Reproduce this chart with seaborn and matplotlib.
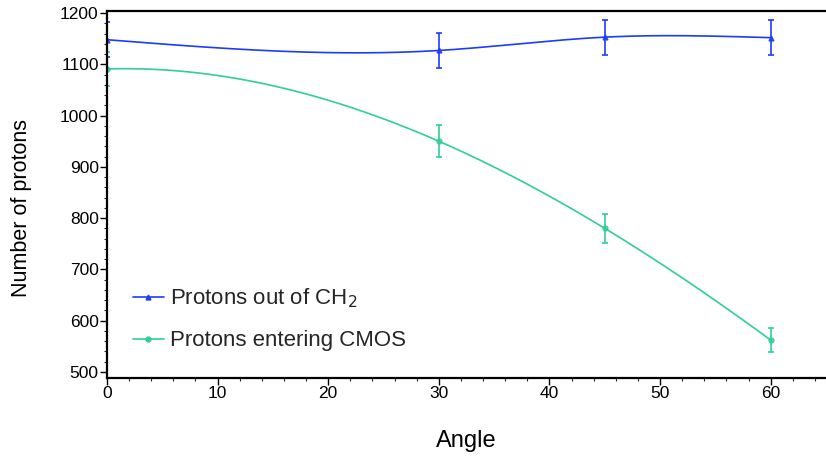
import numpy as np
import pandas as pd
import seaborn as sns
import matplotlib.pyplot as plt
from matplotlib.lines import Line2D
from matplotlib.ticker import MultipleLocator

# measured points
angles = [0, 30, 45, 60]
out_ch2 = [1148, 1127, 1153, 1152]
out_ch2_err = [34, 34, 34, 34]
entering_cmos = [1091, 950, 780, 562]
entering_cmos_err = [33, 31, 28, 24]

blue = '#1f3cf5'
green = '#30cf95'


def natural_spline(x, y, xs):
    # plain natural cubic spline through the points
    x = np.asarray(x, float)
    y = np.asarray(y, float)
    n = len(x)
    h = np.diff(x)
    A = np.zeros((n, n))
    r = np.zeros(n)
    A[0, 0] = A[-1, -1] = 1
    for i in range(1, n - 1):
        A[i, i - 1] = h[i - 1]
        A[i, i] = 2 * (h[i - 1] + h[i])
        A[i, i + 1] = h[i]
        r[i] = 6 * ((y[i + 1] - y[i]) / h[i] - (y[i] - y[i - 1]) / h[i - 1])
    M = np.linalg.solve(A, r)
    k = np.clip(np.searchsorted(x, xs) - 1, 0, n - 2)
    t0 = xs - x[k]
    t1 = x[k + 1] - xs
    hk = h[k]
    return (M[k] * t1**3 + M[k + 1] * t0**3) / (6 * hk) \
        + (y[k] / hk - M[k] * hk / 6) * t1 + (y[k + 1] / hk - M[k + 1] * hk / 6) * t0


sns.set_theme(style='ticks')
plt.rcParams['font.family'] = ['Liberation Sans', 'DejaVu Sans']

fig = plt.figure(figsize=(8.26, 4.59), dpi=100)
ax = fig.add_axes([0.1295, 0.1765, 0.8705, 0.7995])

# smooth curves through the measured points
xs = np.linspace(0, 60, 300)
curves = pd.concat([
    pd.DataFrame({'Angle': xs, 'N': natural_spline(angles, out_ch2, xs), 'series': 'ch2'}),
    pd.DataFrame({'Angle': xs, 'N': np.polyval(np.polyfit(angles, entering_cmos, 3), xs),
                  'series': 'cmos'}),
])

sns.lineplot(data=curves, x='Angle', y='N', hue='series',
             palette=[blue, green], lw=1.2, legend=False, ax=ax)

ax.errorbar(angles, out_ch2, yerr=out_ch2_err, fmt='^', ms=3.5, color=blue,
            ecolor=blue, elinewidth=1.4, capsize=2, capthick=1.4, alpha=0.85)
ax.errorbar(angles, entering_cmos, yerr=entering_cmos_err, fmt='o', ms=3.5, color=green,
            ecolor=green, elinewidth=1.4, capsize=2, capthick=1.4, alpha=0.85)

ax.set_xlim(0, 65)
ax.set_ylim(488, 1204)
ax.set_xticks(range(0, 61, 10))
ax.set_yticks(range(500, 1201, 100))
ax.xaxis.set_minor_locator(MultipleLocator(2))
ax.yaxis.set_minor_locator(MultipleLocator(20))
ax.tick_params(axis='both', which='major', length=5, width=1, labelsize=12.5, pad=1,
               colors='black')
ax.tick_params(axis='both', which='minor', length=2.5, width=0.8)
for lab in ax.get_xticklabels() + ax.get_yticklabels():
    lab.set_family(['Liberation Sans Narrow', 'Liberation Sans'])

for s in ['left', 'bottom', 'top']:
    ax.spines[s].set_color('black')
    ax.spines[s].set_linewidth(1.6)
ax.spines['right'].set_visible(False)
ax.set_facecolor('white')

ax.set_xlabel('Angle', fontsize=17, labelpad=21, color='black')
ax.set_ylabel('Number of protons', fontsize=15.5, color='black')
ax.yaxis.set_label_coords(-0.104, 0.462)

handles = [Line2D([], [], color=blue, marker='^', ms=3.5, lw=1.2),
           Line2D([], [], color=green, marker='o', ms=3.5, lw=1.2)]
ax.legend(handles, ['Protons out of CH$_2$', 'Protons entering CMOS'],
          loc='lower left', bbox_to_anchor=(0.008, 0.018), frameon=False,
          fontsize=16, handlelength=1.4, handletextpad=0.3, labelspacing=0.9)

fig.savefig('out.png', dpi=100)
